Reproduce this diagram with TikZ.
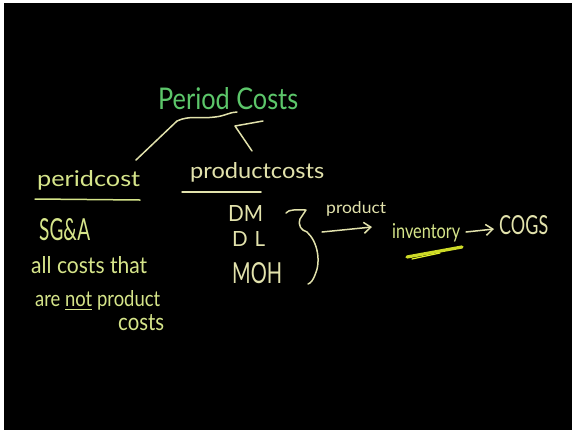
\documentclass[tikz,border=0pt]{standalone}
\usepackage{fontspec}
\setmainfont{Lato}
\usepackage{graphicx}
\usetikzlibrary{arrows.meta}
\definecolor{chalk}{HTML}{D6E58A}
\definecolor{chalkpale}{HTML}{E2E2AC}
\definecolor{chalkgreen}{HTML}{5CC66A}
\definecolor{hilite}{HTML}{E4F22C}
% scale a piece of text to a given width and height above the baseline (in pt)
\newcommand\fitwh[3]{\resizebox{#1pt}{#2pt}{#3}}
\begin{document}
\begin{tikzpicture}[x=1pt,y=-1pt,
  lbl/.style={inner sep=0pt, anchor=base west, text=chalk},
  palelbl/.style={lbl, text=chalkpale},
  stroke/.style={draw=chalkpale, line width=1.5pt, line cap=round, line join=round},
  chalkarrow/.style={stroke, -{Straight Barb[length=7pt,width=11pt,line width=1.5pt]}}]
% board
\fill[white] (0,0) rectangle (577,434);
\fill[black] (4,3) rectangle (572,430);
\useasboundingbox (0,0) rectangle (577,434);

% heading
\node[lbl, text=chalkgreen] (title) at (158,109) {\fitwh{140}{22}{Period Costs}};

% two branches
\node[lbl] (period) at (37,186) {\fitwh{103}{16}{peridcost}};
\node[palelbl] (product) at (190,178) {\fitwh{134}{16}{productcosts}};

% left column
\node[lbl] (sga) at (39,240) {\fitwh{51}{22}{SG\&A}};
\node[lbl] (all) at (31,273) {\fitwh{116}{17}{all costs that}};
\node[lbl] (arenot) at (35,306) {\fitwh{125}{16}{are \underline{not} product}};
\node[lbl] (costs) at (118,330) {\fitwh{46}{16}{costs}};

% product cost items
\node[palelbl] (dm) at (228,221) {\fitwh{35}{16}{DM}};
\node[palelbl] (dl) at (232,246) {\fitwh{33}{15}{D\,\,L}};
\node[palelbl] (moh) at (232,283) {\fitwh{50}{21}{MOH}};

% flow to inventory and COGS
\node[palelbl] (prodlbl) at (326,213) {\fitwh{60}{12}{product}};
\node[lbl] (inv) at (392,238) {\fitwh{68}{15}{inventory}};
\node[palelbl] (cogs) at (499,234) {\fitwh{49}{19}{COGS}};

% connector strokes from the heading
\coordinate (lfoot) at (136,160);
\coordinate (ltop) at (177,121);
\coordinate (wend) at (237,112);
\draw[stroke] (lfoot) -- (ltop)
  .. controls (190,115) and (200,119) .. (215,117)
  .. controls (225,116) and (230,112) .. (wend);
\coordinate (rtop) at (263,121);
\coordinate (rknee) at (235,126);
\coordinate (rfoot) at (252,151);
\draw[stroke] (rtop) -- (rknee) -- (rfoot);

% underlines
\draw[stroke, draw=chalk] (35,199) -- (140,200);
\draw[stroke] (182,192) -- (261,192);

% brace grouping DM, DL, MOH
\draw[stroke] (286,213) .. controls (289,209) and (296,210) .. (306,210)
  -- (300,219) .. controls (298,226) and (301,230) .. (307,232)
  .. controls (318,242) and (321,262) .. (315,275)
  .. controls (313,280) and (311,283) .. (308,284);

% arrows
\coordinate (bracetip) at (322,232);
\coordinate (invin) at (372,227);
\draw[chalkarrow] (bracetip) -- (invin);
\coordinate (invout) at (466,232);
\coordinate (cogsin) at (494,229);
\draw[chalkarrow] (invout) -- (cogsin);

% highlight under inventory
\draw[draw=hilite, line width=3.2pt, line cap=round, opacity=0.9] (407,257) -- (462,247);
\draw[draw=hilite, line width=1.2pt, line cap=round] (412,259) -- (440,253);
\end{tikzpicture}
\end{document}
